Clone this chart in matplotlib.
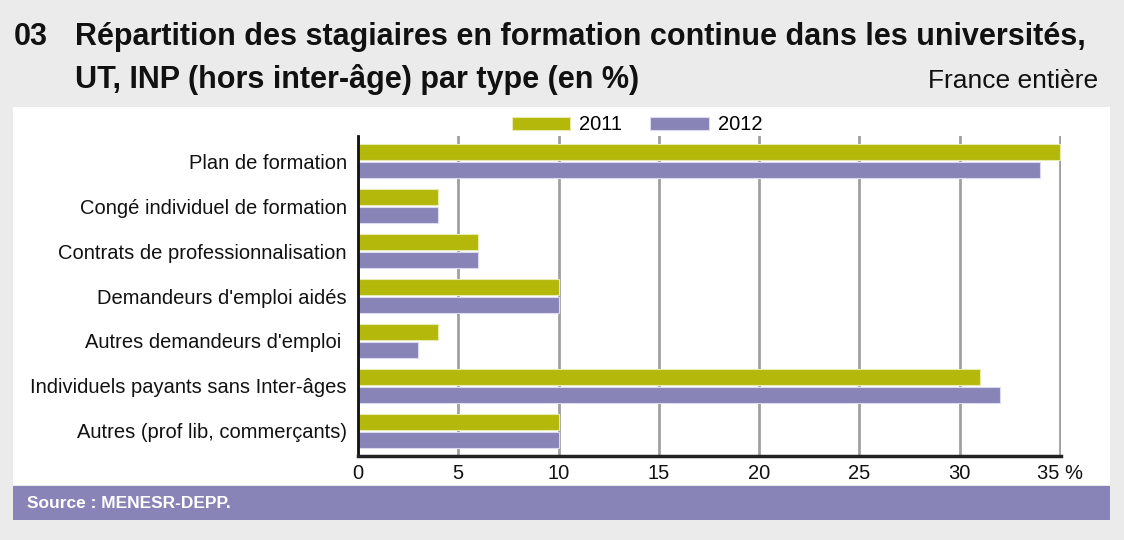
import matplotlib
matplotlib.use("Agg")
import matplotlib.pyplot as plt
from matplotlib.patches import Rectangle

categories = ["Plan de formation", "Congé individuel de formation",
              "Contrats de professionnalisation", "Demandeurs d'emploi aidés",
              "Autres demandeurs d'emploi ", "Individuels payants sans Inter-âges",
              "Autres (prof lib, commerçants)"]
v2011 = [35, 4, 6, 10, 4, 31, 10]
v2012 = [34, 4, 6, 10, 3, 32, 10]
xticks = [0, 5, 10, 15, 20, 25, 30, 35]
xticklabels = ["0", "5", "10", "15", "20", "25", "30", "35 %"]

plt.rcParams['font.family'] = ['Liberation Sans', 'DejaVu Sans']

C11 = "#b3b80b"
C12 = "#8984b8"
W, H = 1124, 540
fig = plt.figure(figsize=(W/100, H/100), dpi=100)
fig.patch.set_facecolor("#ebebeb")

def fx(x): return x / W
def fy(y): return 1 - y / H

# white panel
fig.patches.append(Rectangle((fx(13), fy(485)), fx(1110)-fx(13), fy(107)-fy(485),
                             transform=fig.transFigure, facecolor="white", edgecolor="none", zorder=-5))
# source band
fig.patches.append(Rectangle((fx(13), fy(520)), fx(1110)-fx(13), fy(486)-fy(520),
                             transform=fig.transFigure, facecolor=C12, edgecolor="none", zorder=-5))
fig.text(fx(27), fy(503), "Source : MENESR-DEPP.", color="white", fontsize=12.5,
         fontweight="bold", va="center", ha="left")

fig.text(fx(14), fy(45), "03", fontsize=22, fontweight="bold", va="baseline", color="#111111")
fig.text(fx(75), fy(45), "Répartition des stagiaires en formation continue dans les universités,",
         fontsize=22, fontweight="bold", va="baseline", color="#111111")
fig.text(fx(75), fy(88), "UT, INP (hors inter-âge) par type (en %)",
         fontsize=22, fontweight="bold", va="baseline", color="#111111")
fig.text(fx(1098), fy(88), "France entière", fontsize=19, va="baseline", ha="right", color="#111111")

ax = fig.add_axes([fx(358), fy(456), fx(1061)-fx(358), fy(136)-fy(456)], zorder=2)
ax.set_facecolor("none")
y = list(range(len(categories)))
h = 0.36
ax.barh([i - 0.2 for i in y], v2011, height=h, color=C11, edgecolor="#e8ebb0", linewidth=0.8, zorder=2, label="2011")
ax.barh([i + 0.2 for i in y], v2012, height=h, color=C12, edgecolor="#dcdaf0", linewidth=0.8, zorder=2, label="2012")
ax.set_xlim(0, 35.05)
ax.set_ylim(len(categories) - 1 + 0.556, -0.556)
ax.set_yticks(y)
ax.set_yticklabels(categories, fontsize=14.5, color="#111111")
ax.set_xticks(xticks)
ax.set_xticklabels(xticklabels, fontsize=14.5, color="#111111")
ax.tick_params(axis="both", length=0, pad=8)
ax.tick_params(axis="x", pad=6)
ax.grid(axis="x", color="#a0a0a0", linewidth=2, zorder=1)
ax.set_axisbelow(True)
for s in ["top", "right"]:
    ax.spines[s].set_visible(False)
ax.spines["left"].set_color("#111111")
ax.spines["left"].set_linewidth(2)
ax.spines["bottom"].set_color("#222222")
ax.spines["bottom"].set_linewidth(2.5)
for s in ["left", "bottom"]:
    ax.spines[s].set_zorder(5)

leg = fig.legend(loc="center", bbox_to_anchor=(fx(637), fy(125)), ncol=2, frameon=False,
                 fontsize=14.5, handlelength=2.9, handleheight=0.65, columnspacing=1.4, handletextpad=0.45)

fig.savefig("out.png", dpi=100, facecolor=fig.get_facecolor())
